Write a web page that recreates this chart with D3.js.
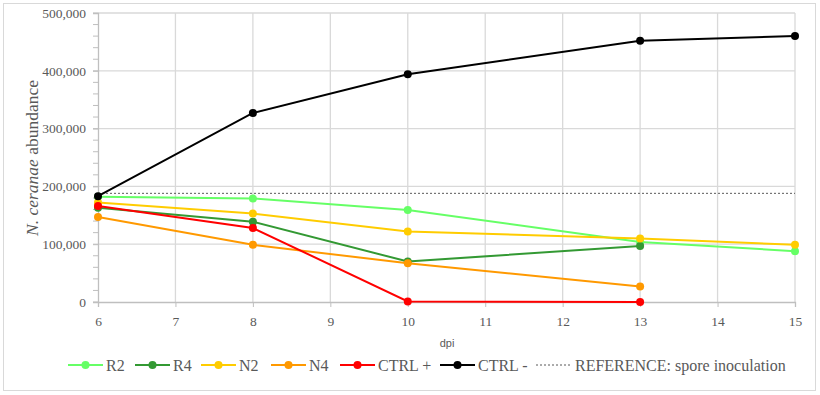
<!DOCTYPE html>
<html>
<head>
<meta charset="utf-8">
<script src="https://cdn.jsdelivr.net/npm/d3@7"></script>
<style>
	body { margin: 0; background: #fff; }
	svg text { font-family: "Liberation Serif", serif; fill: #595959; }
</style>
</head>
<body>
<div id="chart-area"></div>
<script>

// data (dpi vs. spore counts)
let days = [6, 8, 10, 13, 15];
let r2 = [182000, 179000, 159000, 104000, 88000];
let r4 = [163000, 139000, 70000, 97000];
let n2 = [172000, 153000, 122000, 110000, 99000];
let n4 = [147000, 99000, 67000, 27000];
let ctrlPos = [166000, 128000, 1000, 0];
let ctrlNeg = [183000, 327000, 394000, 452000, 460000];
let referenceValue = 188000;

let seriesNames = ["R2", "R4", "N2", "N4", "CTRL +", "CTRL -"];
let seriesColors = ["#66ff66", "#339933", "#ffcc00", "#ff9900", "#ff0000", "#000000"];
let referenceLabel = "REFERENCE: spore inoculation";

let xTicks = [6, 7, 8, 9, 10, 11, 12, 13, 14, 15];
let yTicks = [0, 100000, 200000, 300000, 400000, 500000];

let series = [r2, r4, n2, n4, ctrlPos, ctrlNeg].map((vals, i) => ({
	name: seriesNames[i],
	color: seriesColors[i],
	points: vals.map((v, j) => ({x: days[j], y: v}))
}));

let margin = {top: 13, right: 25, bottom: 93, left: 98};
let width = 820 - margin.left - margin.right;
let height = 395 - margin.top - margin.bottom;

let root = d3.select("#chart-area").append("svg")
	.attr("width", 820)
	.attr("height", 395);

// outer frame
root.append("rect")
	.attr("x", 3.5).attr("y", 3.5)
	.attr("width", 812).attr("height", 387)
	.attr("fill", "#fff")
	.attr("stroke", "#d9d9d9");

let svg = root.append("g")
	.attr("transform", "translate(" + margin.left + "," + margin.top + ")");

let x = d3.scaleLinear().domain([6, 15]).range([0, width]);
let y = d3.scaleLinear().domain([0, 500000]).range([height, 0]);

// gridlines
svg.append("g").selectAll("line")
	.data(xTicks.slice(1))
	.join("line")
	.attr("x1", d => x(d)).attr("x2", d => x(d))
	.attr("y1", 0).attr("y2", height)
	.attr("stroke", "#d9d9d9").attr("stroke-width", 1.3);

svg.append("g").selectAll("line")
	.data(yTicks.slice(1))
	.join("line")
	.attr("x1", 0).attr("x2", width)
	.attr("y1", d => y(d)).attr("y2", d => y(d))
	.attr("stroke", "#d9d9d9").attr("stroke-width", 1.3);

// minor ticks on y axis every 20k
svg.append("g").selectAll("line")
	.data(d3.range(0, 500001, 20000))
	.join("line")
	.attr("x1", -5).attr("x2", 0)
	.attr("y1", d => y(d)).attr("y2", d => y(d))
	.attr("stroke", "#bfbfbf");

// axes
let xAxis = svg.append("g")
	.attr("transform", "translate(0," + height + ")")
	.call(d3.axisBottom(x).tickValues(xTicks).tickSize(5).tickPadding(9).tickFormat(d3.format("d")));

let yAxis = svg.append("g")
	.call(d3.axisLeft(y).tickValues(yTicks).tickSize(5).tickPadding(7).tickFormat(d3.format(",")));

[xAxis, yAxis].forEach(a => {
	a.select(".domain").attr("stroke", "#bfbfbf").attr("stroke-width", 1.3);
	a.selectAll(".tick line").attr("stroke", "#bfbfbf");
	a.selectAll(".tick text")
		.style("font-family", "Liberation Serif, serif")
		.style("font-size", "13.5px")
		.attr("fill", "#595959");
});

// reference line
svg.append("line")
	.attr("x1", 0).attr("x2", width)
	.attr("y1", y(referenceValue)).attr("y2", y(referenceValue))
	.attr("stroke", "#595959")
	.attr("stroke-width", 1)
	.attr("stroke-dasharray", "2,2");

// series lines and markers
let line = d3.line()
	.x(d => x(d.x))
	.y(d => y(d.y));

series.forEach(s => {
	svg.append("path")
		.datum(s.points)
		.attr("fill", "none")
		.attr("stroke", s.color)
		.attr("stroke-width", 2)
		.attr("d", line);

	svg.append("g").selectAll("circle")
		.data(s.points)
		.join("circle")
		.attr("cx", d => x(d.x))
		.attr("cy", d => y(d.y))
		.attr("r", 4)
		.attr("fill", s.color);
});

// axis titles
root.append("text")
	.attr("x", 447).attr("y", 347)
	.attr("text-anchor", "middle")
	.style("font-family", "Liberation Sans, sans-serif")
	.style("font-size", "11px")
	.text("dpi");

let yTitle = root.append("text")
	.attr("transform", "translate(38,158) rotate(-90)")
	.attr("text-anchor", "middle")
	.style("font-size", "17.5px");
yTitle.append("tspan").style("font-style", "italic").text("N. ceranae");
yTitle.append("tspan").text(" abundance");

// legend
let legendX = [68, 135, 201, 271, 340, 440];
let legend = root.append("g").attr("transform", "translate(0,365)");

series.forEach((s, i) => {
	let g = legend.append("g").attr("transform", "translate(" + legendX[i] + ",0)");
	g.append("line")
		.attr("x1", 0).attr("x2", 35)
		.attr("stroke", s.color).attr("stroke-width", 2);
	g.append("circle")
		.attr("cx", 17.5).attr("r", 4)
		.attr("fill", s.color);
	g.append("text")
		.attr("x", 38).attr("y", 5.5)
		.style("font-size", "16px")
		.text(s.name);
});

let refLegend = legend.append("g").attr("transform", "translate(536,0)");
refLegend.append("line")
	.attr("x1", 0).attr("x2", 35)
	.attr("stroke", "#595959").attr("stroke-width", 1)
	.attr("stroke-dasharray", "2,2");
refLegend.append("text")
	.attr("x", 39).attr("y", 5.5)
	.style("font-size", "16px")
	.text(referenceLabel);

</script>
</body>
</html>
